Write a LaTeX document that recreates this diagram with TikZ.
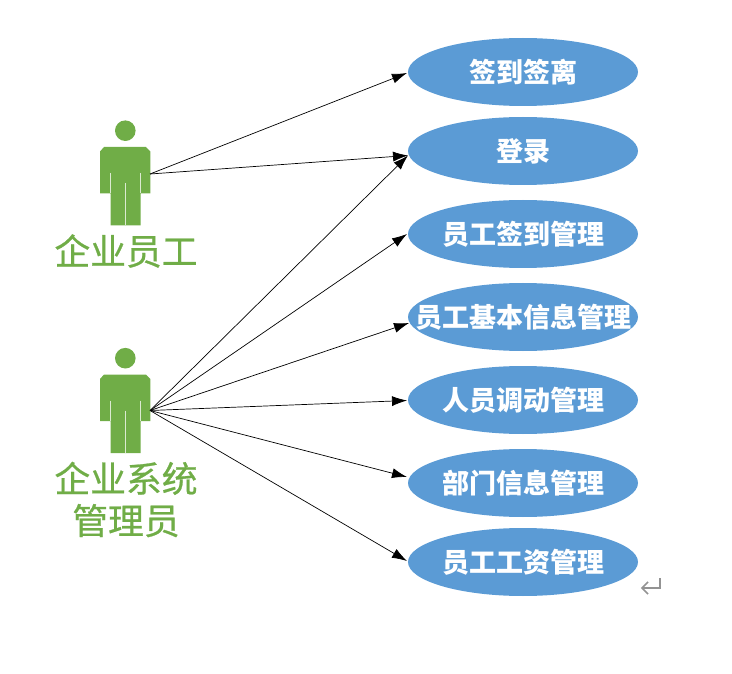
\documentclass[tikz,border=0pt]{standalone}
\usepackage{fontspec}
\newfontfamily\cjk{Noto Sans CJK SC}
\newfontfamily\cjkmed[FakeBold=0.7]{Noto Sans CJK SC}
\usetikzlibrary{arrows.meta,shapes.geometric}
\definecolor{ublue}{HTML}{5B9BD5}
\definecolor{agreen}{HTML}{70AD47}
\tikzset{
  usecase/.style={ellipse,fill=ublue,minimum width=230pt,minimum height=68pt,inner sep=0pt,text=white,font=\cjk\bfseries\fontsize{27}{27}\selectfont},
  actorlabel/.style={text=agreen,align=center,inner sep=0pt,font=\cjkmed\fontsize{35.8}{42}\selectfont},
  link/.style={draw=black,line width=0.7pt,-{Latex[length=15pt,width=10pt]}},
  figure/.style={fill=agreen,draw=none},
  legline/.style={draw=white!75!agreen,line width=0.9pt},
  returnmark/.style={draw=gray!85,line width=1.7pt}
}
\newcommand{\uctext}[1]{\raisebox{1.8pt}{\makebox[0pt][c]{\hspace{1.6pt}#1}}}
\newcommand{\personfig}[2]{%
  \begin{scope}[shift={(#1,#2)}]
    \fill[figure] (125.3,130.7) circle (10.3);
    \fill[figure] (104,147) -- (146,147) -- (150.3,151.5) -- (150.3,193.5) -- (140.5,193.5) -- (140.5,225.5) -- (110.5,225.5) -- (110.5,193.5) -- (100,193.5) -- (100,151.5) -- cycle;
    \draw[legline] (110.5,173) -- (110.5,193.5);
    \draw[legline] (140.5,173) -- (140.5,193.5);
    \draw[legline] (125.5,183) -- (125.5,225.5);
  \end{scope}}
\begin{document}
\begin{tikzpicture}[x=1pt,y=-1pt]
\useasboundingbox (0,0) rectangle (732,674);
\personfig{0}{0}
\personfig{0}{227.5}
\coordinate (emp) at (150,174);
\coordinate (adm) at (150,410.5);
\node[usecase] (u1) at (523,72) {\uctext{签到签离}};
\node[usecase] (u2) at (523,151) {\uctext{登录}};
\node[usecase] (u3) at (523,234) {\uctext{员工签到管理}};
\node[usecase] (u4) at (523,317) {\uctext{员工基本信息管理}};
\node[usecase] (u5) at (523,400) {\uctext{人员调动管理}};
\node[usecase] (u6) at (523,483) {\uctext{部门信息管理}};
\node[usecase] (u7) at (523,562) {\uctext{员工工资管理}};
\coordinate (t1) at (407,73);
\coordinate (t2) at (408,155.5);
\coordinate (t3) at (407,234);
\coordinate (t4) at (409,323);
\coordinate (t5) at (407,400.5);
\coordinate (t6) at (407,477);
\coordinate (t7) at (407,561);
\node[actorlabel] (l1) at (126,251) {企业员工};
\node[actorlabel] (l2) at (126,499.5) {企业系统\\管理员};
\path[link] (emp) -- (t1);
\path[link] (emp) -- (t2);
\path[link] (adm) -- (t2);
\path[link] (adm) -- (t3);
\path[link] (adm) -- (t4);
\path[link] (adm) -- (t5);
\path[link] (adm) -- (t6);
\path[link] (adm) -- (t7);
\draw[returnmark] (660,578) -- (660,588) -- (642,588) (648,582) -- (642,588) -- (648,594);
\end{tikzpicture}
\end{document}
